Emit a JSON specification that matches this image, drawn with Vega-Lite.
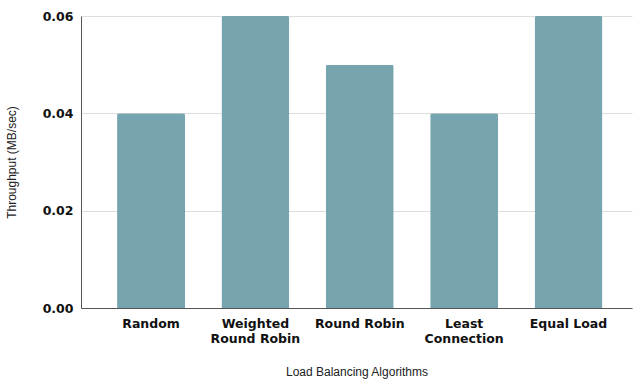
{
  "$schema": "https://vega.github.io/schema/vega-lite/v6.json",
  "width": 551,
  "height": 292,
  "autosize": "none",
  "padding": {"left": 81, "top": 16, "right": 4, "bottom": 75},
  "background": "white",
  "config": {"view": {"stroke": null}, "font": "Liberation Sans"},
  "data": {
    "values": [
      {"algorithm": "Random", "throughput": 0.04},
      {"algorithm": "Weighted Round Robin", "throughput": 0.06},
      {"algorithm": "Round Robin", "throughput": 0.05},
      {"algorithm": "Least Connection", "throughput": 0.04},
      {"algorithm": "Equal Load", "throughput": 0.06}
    ]
  },
  "mark": {"type": "bar", "color": "#76a5af", "cornerRadiusTopLeft": 2, "cornerRadiusTopRight": 2},
  "encoding": {
    "x": {
      "field": "algorithm",
      "type": "nominal",
      "sort": null,
      "scale": {"paddingInner": 0.349, "paddingOuter": 0.314, "align": 0.55},
      "axis": {
        "title": "Load Balancing Algorithms",
        "titleFont": "Liberation Sans",
        "titleFontSize": 12,
        "titleFontWeight": "normal",
        "titleColor": "#222",
        "titlePadding": 22,
        "labelAngle": 0,
        "labelFont": "DejaVu Sans",
        "labelFontSize": 12.5,
        "labelFontWeight": "bold",
        "labelColor": "#111",
        "labelPadding": 9,
        "labelLineHeight": 15,
        "labelExpr": "datum.label == 'Weighted Round Robin' ? ['Weighted', 'Round Robin'] : datum.label == 'Least Connection' ? ['Least', 'Connection'] : datum.label",
        "ticks": false,
        "domainColor": "#555",
        "domainWidth": 1
      }
    },
    "y": {
      "field": "throughput",
      "type": "quantitative",
      "scale": {"domain": [0, 0.06], "nice": false},
      "axis": {
        "title": "Throughput (MB/sec)",
        "titleFont": "Liberation Sans",
        "titleFontSize": 12,
        "titleFontWeight": "normal",
        "titleColor": "#222",
        "titlePadding": 24,
        "values": [0, 0.02, 0.04, 0.06],
        "format": ".2f",
        "labelFont": "DejaVu Sans",
        "labelFontSize": 12.5,
        "labelFontWeight": "bold",
        "labelColor": "#111",
        "labelPadding": 8,
        "ticks": false,
        "grid": true,
        "gridColor": "#dddddd",
        "domainColor": "#555",
        "domainWidth": 1
      }
    }
  }
}
